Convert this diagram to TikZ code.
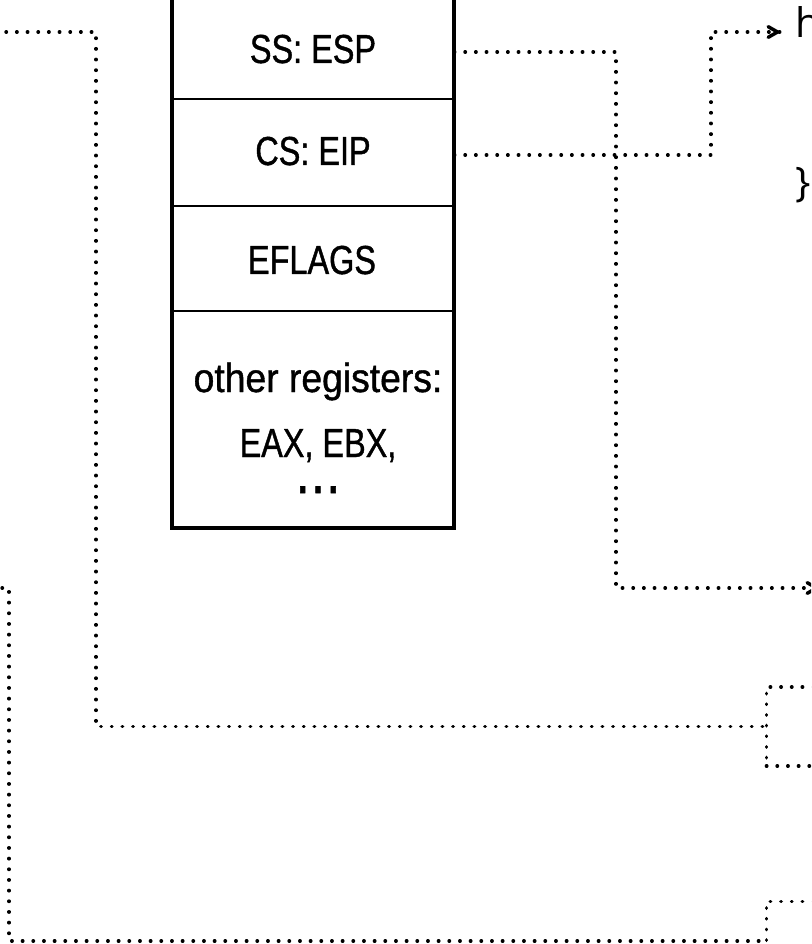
\documentclass[tikz,border=0pt]{standalone}
\usepackage{fontspec}
\setmainfont{Liberation Sans}
\newfontfamily\regfont{Liberation Sans}[FakeStretch=0.8,FakeBold=1]
\newfontfamily\regwide{Liberation Sans}[FakeStretch=0.92,FakeBold=1]
\newfontfamily\codefont{Open Sans}
\usetikzlibrary{arrows.meta}
\begin{document}
\begin{tikzpicture}[x=0.75pt,y=-0.75pt,
  regtext/.style={font=\regfont\fontsize{30.4pt}{36pt}\selectfont, inner sep=0pt, anchor=base},
  codetext/.style={font=\codefont\fontsize{30.6pt}{36pt}\selectfont, inner sep=0pt, anchor=base west},
  rowcell/.style={minimum width=211.5pt, inner sep=0pt},
  dotline/.style={line width=2.5pt, line cap=round, dash pattern=on 0.4pt off 7.6pt},
  tiphead/.style={solid, line width=2.6pt, -{Straight Barb[length=7pt,width=8pt,line cap=round]}},
  dotbox/.style={draw, dotline, minimum width=100pt, minimum height=59.25pt, inner sep=0pt},
  frame/.style={line width=2.4pt},
  divider/.style={line width=1.5pt}]

\useasboundingbox (0,0) rectangle (811,944);
\clip (0,0) rectangle (811,944);

% register stack: cells (used as anchors) and their labels
\node[rowcell, minimum height=70pt] (ss)  at (313,52)  {};
\node[rowcell, minimum height=80pt] (cs)  at (313,155) {};
\node[rowcell, minimum height=78pt] (ef)  at (313,258) {};
\node[rowcell, minimum height=162pt] (oth) at (313,419) {};

\node[regtext] (sstxt) at (313,63)  {SS: ESP};
\node[regtext] (cstxt) at (313,165) {CS: EIP};
\node[regtext] (eftxt) at (312,274) {EFLAGS};
\node[regtext, font=\regwide\fontsize{30.4pt}{36pt}\selectfont] (oth1) at (318,392) {other registers:};
\node[regtext] (oth2) at (318,457) {EAX, EBX,};
\node[regtext, font=\regfont\fontsize{46pt}{50pt}\selectfont, text height=6pt, text depth=0pt]
  (oth3) at (318,493) {.\kern1.2pt.\kern1.2pt.};

% frame and dividers
\draw[frame] (172,-60) -- (172,528) -- (454,528) -- (454,-60);
\draw[divider] (172,99)  -- (454,99);
\draw[divider] (172,206) -- (454,206);
\draw[divider] (172,311) -- (454,311);

% code on the right
\node[codetext] (hcode) at (795,38)  {h};
\node[codetext] (brace) at (795,197) {\}};

% dotted target boxes
\node[dotbox] (b1) at (833,726.5) {};
\node[dotbox] (b2) at (833,941) {};

% connectors (arrow heads drawn solid on top of the dotted run)
\coordinate (dturn) at (711,32);
\coordinate (htip)  at (781,32);
\draw[dotline] (cs.east) -| (dturn) -- (htip);
\draw[tiphead] ([xshift=-2pt]htip) -- (htip);

\coordinate (sturn) at (616,588);
\coordinate (stip)  at (820,588);
\draw[dotline] (ss.east) -| (sturn) -- (stip);
\draw[tiphead] ([xshift=-2pt]stip) -- (stip);

\coordinate (ain)   at (-36.7,32);
\coordinate (aturn) at (96,32);
\draw[dotline] (ain) -- (aturn) |- (b1.west);

\coordinate (bin)   at (-30,588);
\coordinate (bturn) at (9,588);
\draw[dotline] (bin) -- (bturn) |- (b2.west);
\end{tikzpicture}
\end{document}
